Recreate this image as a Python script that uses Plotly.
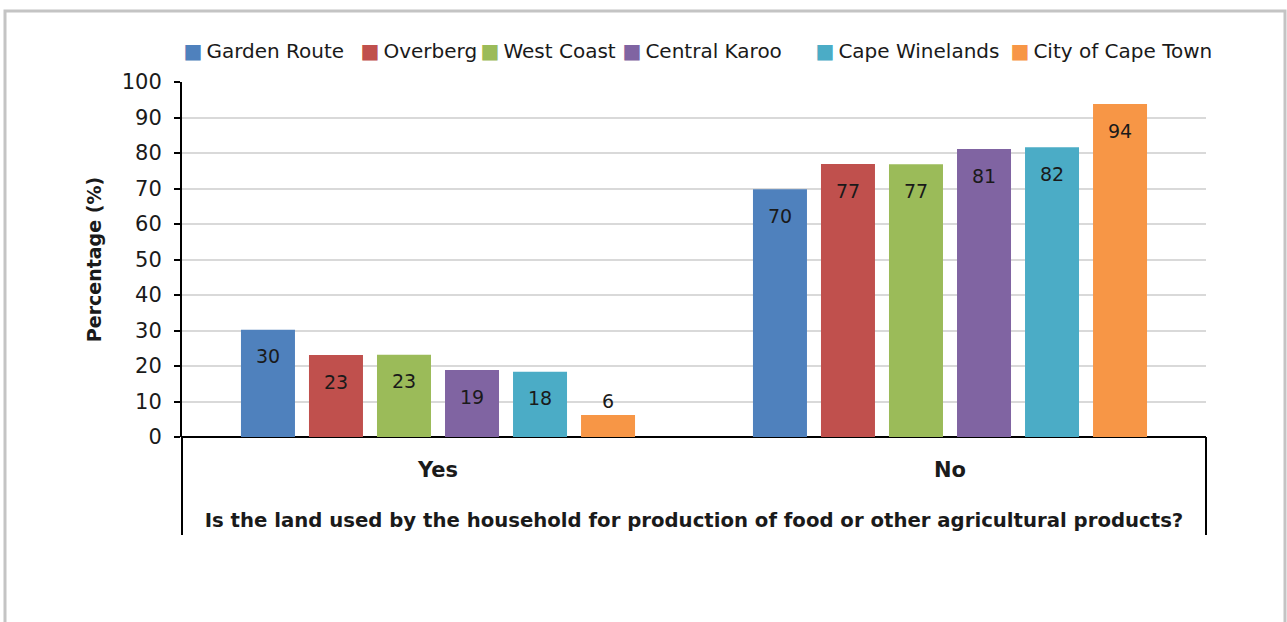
import plotly.graph_objects as go

categories = ["Yes", "No"]
regions = ["Garden Route", "Overberg", "West Coast", "Central Karoo", "Cape Winelands", "City of Cape Town"]
yes_values = [30.2, 23.1, 23.2, 18.9, 18.4, 6.2]
no_values = [69.8, 76.9, 76.8, 81.1, 81.6, 93.8]
colors = ["#4F81BD", "#C0504D", "#9BBB59", "#8064A2", "#4BACC6", "#F79646"]
y_ticks = [0, 10, 20, 30, 40, 50, 60, 70, 80, 90, 100]

FONT = "DejaVu Sans"
W, H = 1287, 622
L, R, T, B = 182, 81, 82, 185
PW, PH = W - L - R, H - T - B
LEGEND_PX = [186, 363, 483, 625, 818, 1013]  # left edge of each legend square

def px_x(p):
    return (p - L) / PW

def px_y(p):
    return (H - B - p) / PH

fig = go.Figure()
for i, name in enumerate(regions):
    vals = [yes_values[i], no_values[i]]
    fig.add_trace(go.Bar(
        name=name,
        x=categories,
        y=vals,
        showlegend=False,
        marker=dict(color=colors[i], line=dict(width=0)),
        text=[f"<span style='font-size:7px'>\u00a0</span><br>{round(v)}" if v >= 10 else f"{round(v)}" for v in vals],
        textposition=["inside" if v >= 10 else "outside" for v in vals],
        insidetextanchor="end",
        constraintext="none",
        textfont=dict(family=FONT, size=19, color="#1a1a1a"),
        outsidetextfont=dict(family=FONT, size=19, color="#1a1a1a"),
        cliponaxis=False,
        hoverinfo="skip",
    ))

# legend entries (one legend per region so that the spacing follows the original)
legends = {}
for i, name in enumerate(regions):
    key = "legend" if i == 0 else f"legend{i + 1}"
    fig.add_trace(go.Scatter(
        x=[None], y=[None], mode="markers",
        marker=dict(color="rgba(0,0,0,0)", size=1),
        name=f"<span style='color:{colors[i]}'>■</span>\u2009{name}",
        legend=key, showlegend=True, hoverinfo="skip",
    ))
    legends[key] = dict(
        xref="container", yref="container",
        x=(LEGEND_PX[i] - 42.5) / W, xanchor="left",
        y=1 - 50 / H, yanchor="middle",
        orientation="h", itemwidth=30,
        font=dict(family=FONT, size=20, color="#1a1a1a"),
        bgcolor="rgba(0,0,0,0)", borderwidth=0,
    )

shapes = [
    dict(type="rect", xref="paper", yref="paper",
         x0=px_x(5), x1=px_x(1285), y0=px_y(660), y1=px_y(11),
         line=dict(color="#c4c4c4", width=3), fillcolor="rgba(0,0,0,0)", layer="below"),
    dict(type="line", xref="paper", yref="paper", x0=0, x1=0, y0=0, y1=px_y(535),
         line=dict(color="black", width=2)),
    dict(type="line", xref="paper", yref="paper", x0=1, x1=1, y0=0, y1=px_y(535),
         line=dict(color="black", width=2)),
]

fig.update_layout(
    width=W, height=H,
    margin=dict(l=L, r=R, t=T, b=B, autoexpand=False),
    paper_bgcolor="white", plot_bgcolor="white",
    barmode="group", bargap=0.203, bargroupgap=0.206,
    font=dict(family=FONT, size=19, color="#1a1a1a"),
    showlegend=True,
    shapes=shapes,
    xaxis=dict(showgrid=False, showline=False, zeroline=False,
               ticks="outside", ticklen=14, tickcolor="rgba(0,0,0,0)",
               tickfont=dict(family=FONT, size=21, color="#1a1a1a", weight="bold"),
               title=dict(text="<b>Is the land used by the household for production of food or other agricultural products?</b>",
                          font=dict(family=FONT, size=19.7, color="#1a1a1a"), standoff=32)),
    yaxis=dict(range=[0, 100], tickvals=y_ticks, showgrid=True, gridcolor="#d9d9d9", gridwidth=2,
               zeroline=True, zerolinecolor="black", zerolinewidth=2,
               showline=True, linecolor="black", linewidth=2,
               ticks="outside", ticklen=6, tickcolor="black", tickwidth=2,
               ticklabelstandoff=8,
               tickfont=dict(family=FONT, size=21, color="#1a1a1a"),
               title=dict(text="<b>Percentage (%)</b>", font=dict(family=FONT, size=19, color="#1a1a1a"), standoff=15)),
    **legends,
)

fig.write_html("out.html", config={"displayModeBar": False},
               post_script="document.body.style.margin='0';document.body.style.overflow='hidden';")
